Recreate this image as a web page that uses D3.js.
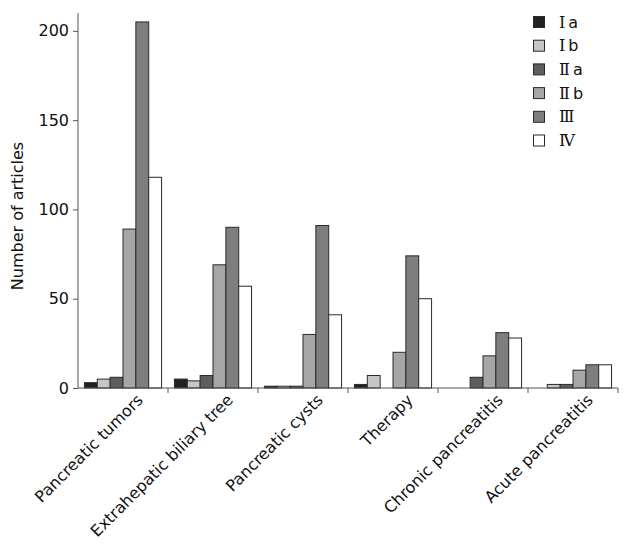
<!DOCTYPE html>
<html><head><meta charset="utf-8">
<script src="https://cdn.jsdelivr.net/npm/d3@7/dist/d3.min.js"></script>
<style>body{margin:0;background:#fff}svg{display:block}</style>
</head><body>
<svg id="c" width="630" height="544"></svg>
<script>
const categories = ["Pancreatic tumors","Extrahepatic biliary tree","Pancreatic cysts","Therapy","Chronic pancreatitis","Acute pancreatitis"];
const seriesNames = [["Ⅰ","a"],["Ⅰ","b"],["Ⅱ","a"],["Ⅱ","b"],["Ⅲ",""],["Ⅳ",""]];
const Ia  = [3, 5, 1, 2, 0, 0];
const Ib  = [5, 4, 1, 7, 0, 2];
const IIa = [6, 7, 1, 0, 6, 2];
const IIb = [89, 69, 30, 20, 18, 10];
const III = [205, 90, 91, 74, 31, 13];
const IV  = [118, 57, 41, 50, 28, 13];
const yTicks = [0, 50, 100, 150, 200];
const series = [Ia, Ib, IIa, IIb, III, IV];
const colors = ["#222222","#c6c6c6","#5e5e5e","#a6a6a6","#7e7e7e","#ffffff"];

const FONT = "DejaVu Sans, Verdana, sans-serif";
const svg = d3.select("#c");
const m = {l:78, r:12, t:13, b:156};
const W = 630, H = 544;
const x = d3.scaleBand().domain(categories).range([m.l, W - m.r]).paddingInner(0).paddingOuter(0);
const x1 = d3.scaleBand().domain(d3.range(6)).range([0, x.bandwidth()]).paddingOuter(0.5).paddingInner(0);
const y = d3.scaleLinear().domain([0, 210]).range([H - m.b, m.t]);

// bars
categories.forEach((c, ci) => {
  series.forEach((s, si) => {
    const v = s[ci];
    if (v <= 0) return;
    svg.append("rect")
      .attr("x", x(c) + x1(si))
      .attr("y", y(v))
      .attr("width", x1.bandwidth())
      .attr("height", y(0) - y(v))
      .attr("fill", colors[si])
      .attr("stroke", "#2a2a2a")
      .attr("stroke-width", 1);
  });
});

// y axis
const ya = svg.append("g").attr("transform", `translate(${m.l},0)`)
  .call(d3.axisLeft(y).tickValues(yTicks).tickSize(5).tickPadding(4));
ya.select(".domain").attr("stroke", "#555").attr("d", `M-0,${y(210)}V${y(0)}`);
ya.selectAll(".tick line").attr("stroke", "#555");
ya.selectAll("text").attr("font-family", FONT).attr("font-size", 16).attr("fill", "#111");

// x axis
const xa = svg.append("g").attr("transform", `translate(0,${y(0)})`);
xa.append("line").attr("x1", m.l).attr("x2", W - m.r).attr("y1", 0).attr("y2", 0).attr("stroke", "#555");
categories.forEach(c => {
  const bx = x(c) + x.bandwidth();
  xa.append("line").attr("x1", bx).attr("x2", bx).attr("y1", 0).attr("y2", 5).attr("stroke", "#555");
});
categories.forEach(c => {
  const cx = x(c) + x.bandwidth() / 2 + 21;
  xa.append("text")
    .attr("transform", `translate(${cx},13) rotate(-45)`)
    .attr("text-anchor", "end")
    .attr("font-family", FONT)
    .attr("font-size", 16)
    .attr("fill", "#111")
    .text(c);
});

// y title
svg.append("text")
  .attr("transform", `translate(23,216) rotate(-90)`)
  .attr("text-anchor", "middle")
  .attr("font-family", FONT)
  .attr("font-size", 16)
  .attr("fill", "#111")
  .text("Number of articles");

// legend
const lg = svg.append("g").attr("transform", "translate(533,16)");
seriesNames.forEach((n, i) => {
  const g = lg.append("g").attr("transform", `translate(0,${i * 23.7})`);
  g.append("rect").attr("x", 0.5).attr("y", 0.5).attr("width", 11).attr("height", 11)
    .attr("fill", colors[i]).attr("stroke", "#2a2a2a");
  const t = g.append("text").attr("x", 26).attr("y", 11.5).attr("fill", "#111").attr("font-size", 16);
  t.append("tspan").attr("font-family", "DejaVu Serif, Liberation Serif, serif").text(n[0]);
  if (n[1]) t.append("tspan").attr("dx", 3).attr("font-family", FONT).text(n[1]);
});
</script>
</body></html>
